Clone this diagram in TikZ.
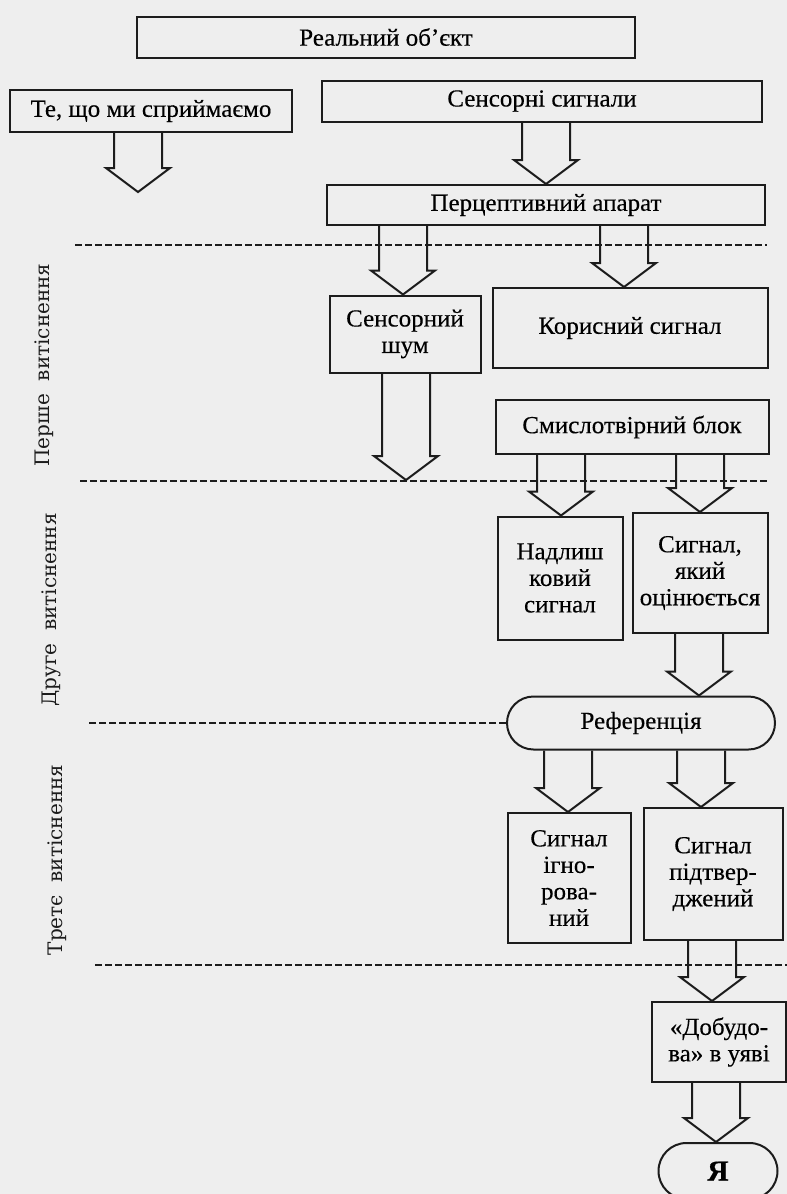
\documentclass[tikz,border=0pt]{standalone}
\usepackage{fontspec}
\setmainfont{Liberation Serif}[FakeStretch=1.02,FakeBold=0.3]
\newfontfamily\sidefont{DejaVu Serif}
\usetikzlibrary{calc,shapes.misc}
\definecolor{Paper}{HTML}{EEEEEE}
\definecolor{Ink}{HTML}{1C1C1C}

% hollow block arrow: start point, x of the shaft, tip point
\newcommand{\hollowarrow}[3]{%
  \draw[hollow] let \p1=(#1), \p2=(#3) in
    (#2-24,\y1) -- (#2-24,\y2+24pt) -- (#2-32,\y2+24pt) -- (#2,\y2)
    -- (#2+32,\y2+24pt) -- (#2+24,\y2+24pt) -- (#2+24,\y1);}

\begin{document}
\begin{tikzpicture}[x=1pt,y=-1pt,
    box/.style={draw=Ink,line width=2pt,align=center,inner sep=2pt,
      font=\fontsize{24.5}{26.5}\selectfont},
    oval/.style={box,rounded rectangle},
    hollow/.style={draw=Ink,line width=2pt,line join=miter},
    divider/.style={draw=Ink,line width=2.8pt,dash pattern=on 7pt off 3pt},
    side/.style={rotate=90,text=Ink,font=\sidefont\fontsize{20}{22}\selectfont}
  ]
  \useasboundingbox (0,0) rectangle (787,1194);
  \clip (0,0) rectangle (787,1194);
  \fill[Paper] (0,0) rectangle (787,1194);

  % top part
  \node[box,minimum width=498,minimum height=41] (real) at (386,37) {Реальний об’єкт};
  \node[box,minimum width=282,minimum height=42] (tesho) at (151,111) {Те, що ми сприймаємо};
  \node[box,minimum width=440,minimum height=41] (sensig) at (542,101) {Сенсорні сигнали};
  \node[box,minimum width=438,minimum height=40] (percep) at (546,205) {Перцептивний апарат};

  % first displacement
  \node[box,minimum width=151,minimum height=77] (noise) at (405,334) {Сенсорний\\шум};
  \node[box,minimum width=275,minimum height=80] (useful) at (630,328) {Корисний сигнал};
  \node[box,minimum width=273,minimum height=54] (sense) at (632,427) {Смислотвірний блок};

  % second displacement
  \node[box,minimum width=125,minimum height=123] (excess) at (560,578) {Надлиш\\ковий\\сигнал};
  \node[box,minimum width=135,minimum height=120] (evaluated) at (700,573) {Сигнал,\\який\\оцінюється};
  \node[oval,minimum width=272,minimum height=53] (ref) at (641,723) {Референція};

  % third displacement
  \node[box,minimum width=123,minimum height=130] (ignored) at (569,878) {Сигнал\\ігно-\\рова-\\ний};
  \node[box,minimum width=139,minimum height=132] (confirmed) at (713,874) {Сигнал\\підтвер-\\джений};
  \node[box,minimum width=134,minimum height=80] (dobud) at (719,1042) {«Добудо-\\ва» в уяві};
  \node[oval,minimum width=123,minimum height=56,font=\fontsize{29}{30}\selectfont\bfseries] (ya) at (718,1171) {Я};

  % side labels
  \node[side] (first) at (44,365) {Перше\ \ витіснення};
  \node[side] (second) at (51,610) {Друге\ \ витіснення};
  \node[side] (third) at (57,860) {Третє\ \ витіснення};

  % dividers
  \draw[divider] (75,245) -- (767,245);
  \draw[divider] (80,481) -- (767,481);
  \draw[divider] (ref.west) -- ++(-418,0);
  \draw[divider] (95,965) -- (787,965);

  % arrows
  \coordinate (endA) at (138,192);
  \coordinate (endB) at (406,480);
  \hollowarrow{tesho.south}{138}{endA}
  \hollowarrow{sensig.south}{546}{percep.north}
  \hollowarrow{percep.south}{403}{noise.north}
  \hollowarrow{percep.south}{624}{useful.north}
  \hollowarrow{noise.south}{406}{endB}
  \hollowarrow{sense.south}{561}{excess.north}
  \hollowarrow{sense.south}{700}{evaluated.north}
  \hollowarrow{evaluated.south}{699}{ref.north}
  \hollowarrow{ref.south}{568}{ignored.north}
  \hollowarrow{ref.south}{701}{confirmed.north}
  \hollowarrow{confirmed.south}{712}{dobud.north}
  \hollowarrow{dobud.south}{716}{ya.north}
\end{tikzpicture}
\end{document}
